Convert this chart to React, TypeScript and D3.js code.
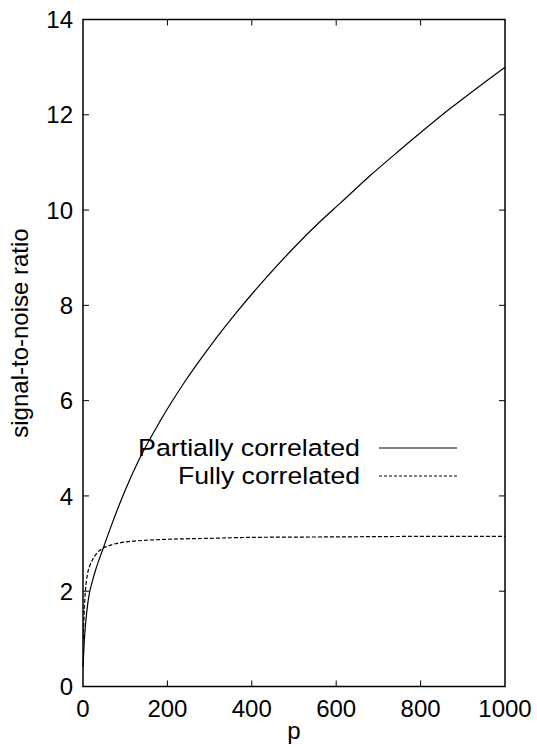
import React, { useEffect, useRef } from 'react';
import * as d3 from 'd3';

// Data
const partialP = [0, 3, 6, 10, 15, 22, 30, 47, 66, 100, 135, 182, 240, 301, 360, 419, 490, 562, 609, 680, 751, 870, 1000];
const partialSNR = [0.41, 0.95, 1.3, 1.65, 1.95, 2.2, 2.45, 2.88, 3.35, 4.12, 4.8, 5.56, 6.38, 7.14, 7.81, 8.43, 9.12, 9.76, 10.14, 10.72, 11.26, 12.13, 13.0];

const fullP = [1, 2, 3, 5, 8, 12, 16, 22, 32, 47, 70, 107, 150, 200, 300, 400, 600, 800, 1000];
const fullSNR = [1.0, 1.35, 1.58, 1.92, 2.2, 2.42, 2.53, 2.65, 2.79, 2.9, 2.98, 3.04, 3.07, 3.09, 3.11, 3.13, 3.14, 3.15, 3.15];

const xTicks = [0, 200, 400, 600, 800, 1000];
const yTicks = [0, 2, 4, 6, 8, 10, 12, 14];

const legendLabels = ['Partially correlated', 'Fully correlated'];

const App = () => {
  const svgRef = useRef<SVGSVGElement>(null);

  useEffect(() => {
    const svg = d3.select(svgRef.current);
    svg.selectAll('*').remove();

    const width = 537;
    const height = 749;
    const margin = { top: 19.5, right: 32, bottom: 62.5, left: 83 };
    const font = 'Liberation Sans, Arial, sans-serif';

    const x = d3.scaleLinear().domain([0, 1000]).range([margin.left, width - margin.right]);
    const y = d3.scaleLinear().domain([0, 14]).range([height - margin.bottom, margin.top]);

    const [x0, x1] = x.range();
    const [y0, y1] = y.range();
    const tick = 6;

    // ticks, mirrored on all four sides
    const ticks = svg.append('g').attr('stroke', '#000').attr('stroke-width', 1);
    xTicks.slice(1, -1).forEach(t => {
      ticks.append('line').attr('x1', x(t)).attr('x2', x(t)).attr('y1', y0).attr('y2', y0 - tick);
      ticks.append('line').attr('x1', x(t)).attr('x2', x(t)).attr('y1', y1).attr('y2', y1 + tick);
    });
    yTicks.slice(1, -1).forEach(t => {
      ticks.append('line').attr('x1', x0).attr('x2', x0 + tick).attr('y1', y(t)).attr('y2', y(t));
      ticks.append('line').attr('x1', x1).attr('x2', x1 - tick).attr('y1', y(t)).attr('y2', y(t));
    });

    // tick labels
    svg.append('g')
      .selectAll('text')
      .data(xTicks)
      .join('text')
      .attr('x', d => x(d))
      .attr('y', y0 + 30)
      .attr('text-anchor', 'middle')
      .attr('font-family', font)
      .attr('font-size', 24)
      .text(d => d);

    svg.append('g')
      .selectAll('text')
      .data(yTicks)
      .join('text')
      .attr('x', x0 - 10)
      .attr('y', d => y(d) + 8.7)
      .attr('text-anchor', 'end')
      .attr('font-family', font)
      .attr('font-size', 24)
      .text(d => d);

    // axis titles
    svg.append('text')
      .attr('x', (x0 + x1) / 2)
      .attr('y', 739)
      .attr('text-anchor', 'middle')
      .attr('font-family', font)
      .attr('font-size', 24)
      .text('p');

    svg.append('text')
      .attr('transform', `translate(28,333) rotate(-90)`)
      .attr('text-anchor', 'middle')
      .attr('font-family', font)
      .attr('font-size', 24)
      .text('signal-to-noise ratio');

    // curves
    const line = d3.line<[number, number]>()
      .x(d => x(d[0]))
      .y(d => y(d[1]))
      .curve(d3.curveMonotoneX);

    const partial = partialP.map((p, i) => [p, partialSNR[i]] as [number, number]);
    const full = fullP.map((p, i) => [p, fullSNR[i]] as [number, number]);

    svg.append('path')
      .datum(partial)
      .attr('fill', 'none')
      .attr('stroke', '#000')
      .attr('stroke-width', 1.2)
      .attr('d', line);

    svg.append('path')
      .datum(full)
      .attr('fill', 'none')
      .attr('stroke', '#000')
      .attr('stroke-width', 1.2)
      .attr('stroke-dasharray', '4,2')
      .attr('d', line);

    // legend (text is a bit wider in the reference than plain 24px)
    const legendWidths = [222, 182];
    const legend = svg.append('g');
    legendLabels.forEach((label, i) => {
      const ly = 448 + i * 28;
      legend.append('text')
        .attr('x', 360)
        .attr('y', ly + 8.3)
        .attr('text-anchor', 'end')
        .attr('font-family', font)
        .attr('font-size', 24.5)
        .attr('textLength', legendWidths[i])
        .attr('lengthAdjust', 'spacingAndGlyphs')
        .text(label);
      legend.append('line')
        .attr('x1', 379)
        .attr('x2', 457)
        .attr('y1', ly)
        .attr('y2', ly)
        .attr('stroke', '#000')
        .attr('stroke-width', 1.2)
        .attr('stroke-dasharray', i === 0 ? null : '3,2');
    });

    // frame
    svg.append('rect')
      .attr('x', x0)
      .attr('y', y1)
      .attr('width', x1 - x0)
      .attr('height', y0 - y1)
      .attr('fill', 'none')
      .attr('stroke', '#000')
      .attr('stroke-width', 1.5);
  }, []);

  return (
    <svg
      ref={svgRef}
      width="537"
      height="749"
      style={{ position: 'absolute', left: 0, top: 0, background: '#fff' }}
    />
  );
};

export default App;
